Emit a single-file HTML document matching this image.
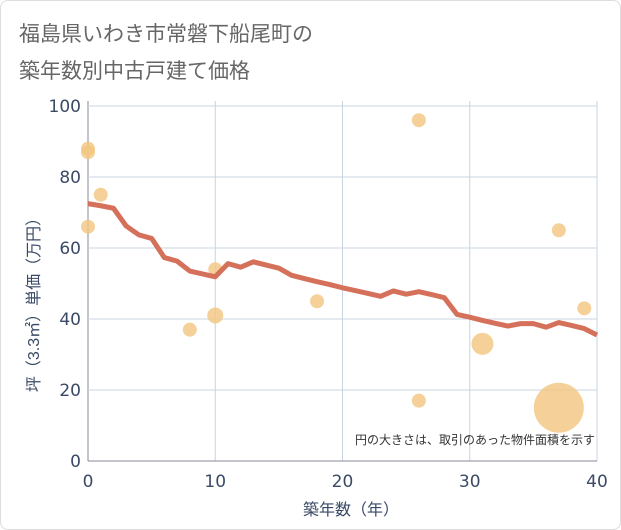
<!DOCTYPE html>
<html><head><meta charset="utf-8"><style>
body{margin:0;background:#fff;font-family:"Liberation Sans","Noto Sans CJK JP",sans-serif}
#wrap{position:relative;width:619px;height:528px;border:1px solid #ddd;border-radius:8px;overflow:hidden;background:#fff}
</style></head><body>
<div id="wrap">
<svg id="chart" width="621" height="530">
<text x="18" y="40" font-size="21" fill="#666" font-family="Liberation Sans, Noto Sans CJK JP, sans-serif">福島県いわき市常磐下船尾町の</text>
<text x="18" y="77" font-size="21" fill="#666" font-family="Liberation Sans, Noto Sans CJK JP, sans-serif">築年数別中古戸建て価格</text>
<g id="grid"></g><g id="dots"></g><g id="line"></g><g id="axes"></g>
<text x="594" y="443" font-size="12" fill="#333" text-anchor="end" font-family="Liberation Sans, Noto Sans CJK JP, sans-serif">円の大きさは、取引のあった物件面積を示す</text>
<text x="350" y="514" font-size="16" fill="#3a4a66" text-anchor="middle" font-family="Liberation Sans, Noto Sans CJK JP, sans-serif">築年数（年）</text>
<text transform="translate(38,300) rotate(-90)" font-size="16" fill="#3a4a66" text-anchor="middle" font-family="Liberation Sans, Noto Sans CJK JP, sans-serif">坪（3.3㎡）単価（万円）</text>
</svg>
</div>
<script>
const xTicks=[0,10,20,30,40];
const yTicks=[0,20,40,60,80,100];
const trendYears=[0,1,2,3,4,5,6,7,8,9,10,11,12,13,14,15,16,17,18,19,20,21,22,23,24,25,26,27,28,29,30,31,32,33,34,35,36,37,38,39,40];
const trendValues=[72.5,71.9,71.2,66.2,63.7,62.7,57.3,56.3,53.5,52.7,51.9,55.6,54.6,56.1,55.2,54.3,52.3,51.4,50.5,49.7,48.8,48,47.2,46.4,47.9,47,47.7,46.9,46,41.3,40.5,39.6,38.8,38,38.7,38.7,37.7,39,38.2,37.3,35.5];
const dotYears=[0,0,0,1,8,10,10,18,26,26,31,37,37,39];
const dotValues=[88,87,66,75,37,54,41,45,96,17,33,65,15,43];
const dotRadii=[7,7,7,7,7,7,8,7,7,7,11,7,25,7];
const NS="http://www.w3.org/2000/svg";
const X0=87,X1=596,Y0=460,Y1=105;
const sx=v=>X0+(v-0)/(40-0)*(X1-X0);
const sy=v=>Y0-(v-0)/(100-0)*(Y0-Y1);
function mk(t,a,p){const e=document.createElementNS(NS,t);for(const k in a)e.setAttribute(k,a[k]);p.appendChild(e);return e;}
const grid=document.getElementById('grid'),axes=document.getElementById('axes');
xTicks.forEach(t=>{
 const l=mk('line',{x1:sx(t),x2:sx(t),y1:Y1-5,y2:Y0,stroke:t===0?'#889':'#c8d4e0','stroke-width':1},grid);
 
 
 const tx=mk('text',{x:sx(t),y:486,'font-size':17,fill:'#3a4a66','text-anchor':'middle','font-family':'DejaVu Sans, sans-serif'},axes);
 tx.textContent=t;
 
 
});
yTicks.forEach(t=>{
 const l=mk('line',{x1:X0,x2:X1,y1:sy(t),y2:sy(t),stroke:t===0?'#889':'#c8d4e0','stroke-width':1},grid);
 
 
 const tx=mk('text',{x:80,y:sy(t)+6,'font-size':17,fill:'#3a4a66','text-anchor':'end','font-family':'DejaVu Sans, sans-serif'},axes);
 tx.textContent=t;
 
 
});
const dots=document.getElementById('dots');
dotYears.forEach((y,i)=>{
 const c=mk('circle',{cx:sx(y),cy:sy(dotValues[i]),r:dotRadii[i],fill:'#f3c57f','fill-opacity':0.8},dots);
 
 
});
const p=mk('polyline',{points:trendYears.map((y,i)=>sx(y)+','+sy(trendValues[i])).join(' '),fill:'none',stroke:'#d5705a','stroke-width':5,'stroke-linejoin':'round'},document.getElementById('line'));


</script>
</body></html>
